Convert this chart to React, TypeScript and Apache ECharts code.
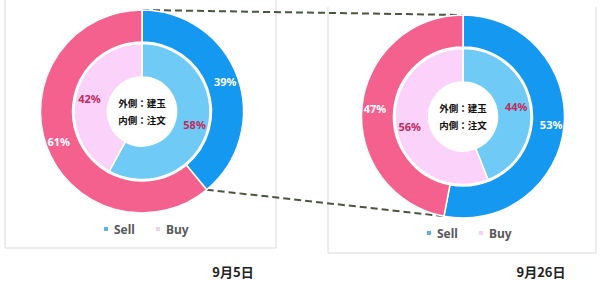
import React, { useEffect, useRef } from "react";
import * as echarts from "echarts";

const categories = ["Sell", "Buy"];
const dates = ["9月5日", "9月26日"];
const outerSep5 = [39, 61];
const innerSep5 = [58, 42];
const outerSep26 = [53, 47];
const innerSep26 = [44, 56];
const centerLines = ["外側：建玉", "内側：注文"];

const outerColors = ["#1598EF", "#F5618F"];
const innerColors = ["#6FCBF6", "#FBD2F9"];
const legendColors = ["#58B6DE", "#F2D0F0"];

export default function App() {
  const ref = useRef<HTMLDivElement>(null);
  useEffect(() => {
    if (!ref.current) return;
    const chart = echarts.init(ref.current, undefined, { renderer: "svg" });
    const font = "'Noto Sans', 'Noto Sans CJK JP', sans-serif";
    const cjk = "'Noto Sans CJK JP', sans-serif";
    const c1: [number, number] = [142, 111.5];
    const c2: [number, number] = [463, 116.5];
    const rIn: [number, number] = [34.5, 68];
    const rOut: [number, number] = [69.5, 101.5];

    const mk = (vals: number[]) =>
      categories.map((n, i) => ({ name: n, value: vals[i] }));

    const innerSeries = (center: [number, number], vals: number[]) => ({
      type: "pie",
      center,
      radius: rIn,
      startAngle: 90,
      clockwise: true,
      avoidLabelOverlap: false,
      silent: true,
      data: mk(vals).map((d, i) => ({ ...d, itemStyle: { color: innerColors[i] } })),
      itemStyle: { borderColor: "#ffffff", borderWidth: 1.5 },
      label: {
        show: true,
        position: "inside",
        formatter: "{c}%",
        color: "#C02A5C",
        fontSize: 11,
        fontWeight: "bold",
        fontFamily: font,
      },
      labelLine: { show: false },
    });
    const outerSeries = (center: [number, number], vals: number[]) => ({
      type: "pie",
      center,
      radius: rOut,
      startAngle: 90,
      clockwise: true,
      avoidLabelOverlap: false,
      silent: true,
      data: mk(vals).map((d, i) => ({ ...d, itemStyle: { color: outerColors[i] } })),
      itemStyle: { borderColor: "#ffffff", borderWidth: 1.5 },
      label: {
        show: true,
        position: "inside",
        formatter: "{c}%",
        color: "#ffffff",
        fontSize: 11,
        fontWeight: "bold",
        fontFamily: font,
      },
      labelLine: { show: false },
    });

    const total = (v: number[]) => v.reduce((a, b) => a + b, 0);
    const pt = (c: [number, number], r: number, frac: number) => {
      const a = frac * 2 * Math.PI;
      return [c[0] + r * Math.sin(a), c[1] - r * Math.cos(a)];
    };
    const topL = pt(c1, rOut[1], 0);
    const topR = pt(c2, rOut[1], 0);
    const botL = pt(c1, rOut[1], outerSep5[0] / total(outerSep5));
    const botR = pt(c2, rOut[1], outerSep26[0] / total(outerSep26));

    const boxStroke = { stroke: "#D9D9D9", lineWidth: 1 };
    const vline = (x: number, y1: number, y2: number) => ({
      type: "line",
      shape: { x1: x, y1, x2: x, y2 },
      style: boxStroke,
      z: 0,
    });
    const hline = (y: number, x1: number, x2: number) => ({
      type: "line",
      shape: { x1, y1: y, x2, y2: y },
      style: boxStroke,
      z: 0,
    });
    const dash = (a: number[], b: number[]) => ({
      type: "line",
      shape: { x1: a[0], y1: a[1], x2: b[0], y2: b[1] },
      style: { stroke: "#4A5640", lineWidth: 2, lineDash: [7, 4] },
      z: 1,
    });
    const centerText = (c: [number, number]) => ({
      type: "text",
      x: c[0],
      y: c[1],
      z: 10,
      style: {
        text: centerLines.join("\n"),
        x: 0,
        y: 0,
        align: "center",
        verticalAlign: "middle",
        fill: "#111111",
        font: `bold 9.5px ${cjk}`,
        lineHeight: 17,
      },
    });
    const dateText = (x: number, y: number, t: string) => ({
      type: "text",
      x,
      y,
      style: {
        text: t,
        align: "center",
        verticalAlign: "middle",
        fill: "#222222",
        font: `bold 13px ${cjk}`,
      },
    });

    const legendBase = {
      data: categories.map((n, i) => ({ name: n, itemStyle: { color: legendColors[i] } })),
      orient: "horizontal",
      icon: "rect",
      itemWidth: 6,
      itemHeight: 6,
      itemGap: 19,
      selectedMode: false,
      textStyle: { color: "#595959", fontSize: 12, fontWeight: "bold", fontFamily: font },
      padding: 0,
    };

    chart.setOption({
      animation: false,
      backgroundColor: "#ffffff",
      legend: [
        { ...legendBase, left: 102, top: 223 },
        { ...legendBase, left: 425, top: 227 },
      ],
      series: [
        innerSeries(c1, innerSep5),
        outerSeries(c1, outerSep5),
        innerSeries(c2, innerSep26),
        outerSeries(c2, outerSep26),
      ],
      graphic: [
        vline(5, 0, 248),
        vline(276, 0, 248),
        hline(248, 5, 276),
        vline(328, 7, 253),
        vline(596, 7, 253),
        hline(253, 328, 596),
        dash(topL, topR),
        dash(botL, botR),
        centerText(c1),
        centerText(c2),
        dateText(233, 271, dates[0]),
        dateText(541, 271, dates[1]),
      ],
    });
    return () => chart.dispose();
  }, []);
  return (
    <div
      ref={ref}
      style={{ position: "absolute", left: 0, top: 0, width: 600, height: 281 }}
    />
  );
}
